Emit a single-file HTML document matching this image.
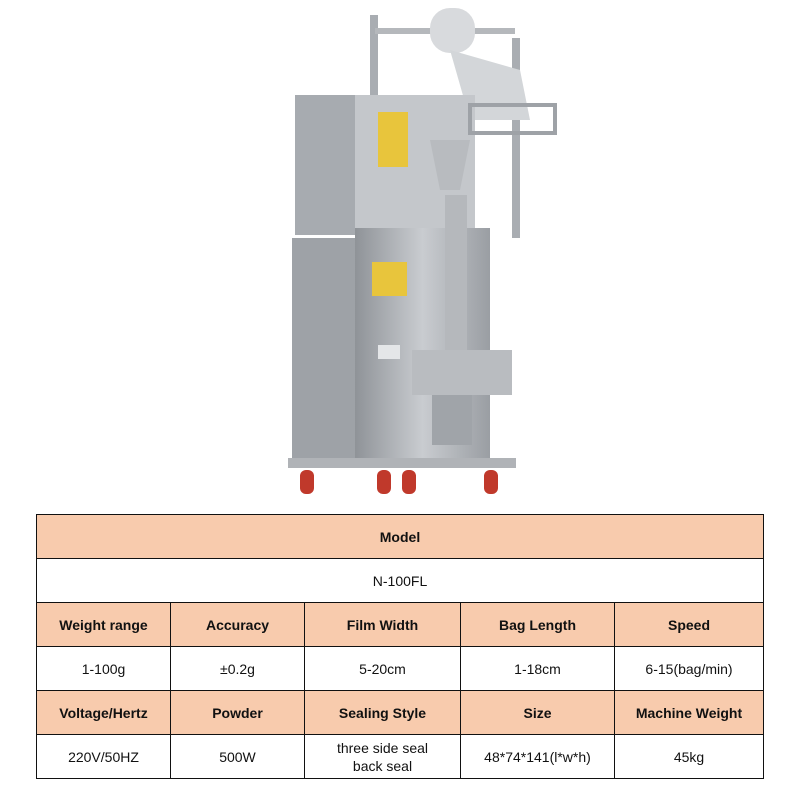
<!DOCTYPE html>
<html><head><meta charset="utf-8"><style>
body{margin:0;width:800px;height:800px;background:#fff;position:relative;overflow:hidden;font-family:"Liberation Sans",sans-serif}
.a{position:absolute}
table{position:absolute;left:36px;top:514px;border-collapse:collapse;width:728px}
td{border:1.5px solid #111;height:43px;text-align:center;font-size:14px;color:#111;padding:0;line-height:18px}
.h td,td.h{background:#F8CBAD;font-weight:bold}
</style></head><body>
<svg class="a" style="left:0;top:0" width="800" height="505">
<defs><linearGradient id="g" x1="0" x2="1"><stop offset="0" stop-color="#8f9398"/><stop offset=".5" stop-color="#c9ccd0"/><stop offset="1" stop-color="#9a9ea3"/></linearGradient></defs>
<rect x="370" y="15" width="8" height="110" fill="#a9adb2"/>
<rect x="512" y="38" width="8" height="200" fill="#a9adb2"/>
<rect x="375" y="28" width="140" height="6" fill="#b5b8bc"/>
<rect x="430" y="8" width="45" height="45" rx="20" fill="#d8dadd"/>
<path d="M450 50 L520 70 L530 120 L470 120 Z" fill="#d3d6d9"/>
<rect x="295" y="95" width="70" height="140" fill="#a7abb0"/>
<rect x="355" y="95" width="120" height="140" fill="#c4c7cb"/>
<rect x="470" y="105" width="85" height="28" fill="none" stroke="#9ea2a7" stroke-width="4"/>
<rect x="378" y="112" width="30" height="55" fill="#e8c53c"/>
<path d="M430 140 L470 140 L460 190 L440 190 Z" fill="#b8bbbf"/>
<rect x="292" y="238" width="65" height="222" fill="#9ea2a7"/>
<rect x="355" y="228" width="135" height="232" fill="url(#g)"/>
<rect x="372" y="262" width="35" height="34" fill="#e8c53c"/>
<rect x="445" y="195" width="22" height="160" fill="#b5b8bc"/>
<rect x="412" y="350" width="100" height="45" fill="#b9bcc0"/>
<rect x="432" y="395" width="40" height="50" fill="#a0a4a9"/>
<rect x="378" y="345" width="22" height="14" fill="#e4e6e8"/>
<rect x="288" y="458" width="228" height="10" fill="#b0b3b7"/>
<g fill="#c0392b"><rect x="300" y="470" width="14" height="24" rx="6"/><rect x="377" y="470" width="14" height="24" rx="6"/><rect x="402" y="470" width="14" height="24" rx="6"/><rect x="484" y="470" width="14" height="24" rx="6"/></g>
</svg>
<table>
<tr class="h"><td colspan="5">Model</td></tr>
<tr><td colspan="5">N-100FL</td></tr>
<tr class="h"><td style="width:133px">Weight range</td><td style="width:133px">Accuracy</td><td style="width:155px">Film Width</td><td style="width:153px">Bag Length</td><td>Speed</td></tr>
<tr><td>1-100g</td><td>±0.2g</td><td>5-20cm</td><td>1-18cm</td><td>6-15(bag/min)</td></tr>
<tr class="h"><td>Voltage/Hertz</td><td>Powder</td><td>Sealing Style</td><td>Size</td><td>Machine Weight</td></tr>
<tr><td>220V/50HZ</td><td>500W</td><td>three side seal<br>back seal</td><td>48*74*141(l*w*h)</td><td>45kg</td></tr>
</table>
</body></html>
